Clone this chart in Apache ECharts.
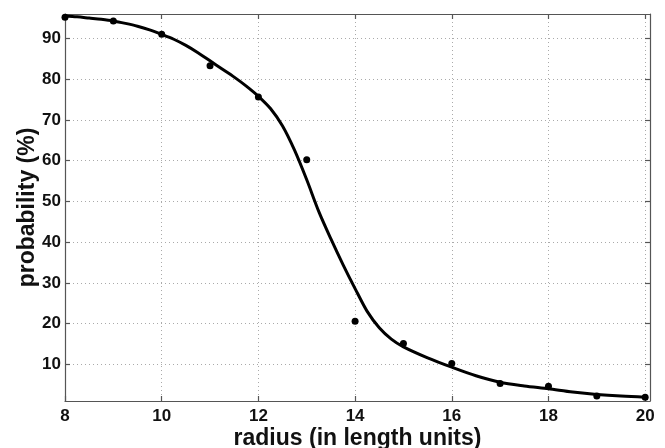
<!DOCTYPE html>
<html>
<head>
<meta charset="utf-8">
<script src="https://cdn.jsdelivr.net/npm/echarts@6/dist/echarts.min.js"></script>
<style>
  html, body { margin: 0; padding: 0; background: #fff; }
  #main { width: 665px; height: 448px; }
</style>
</head>
<body>
<div id="main"></div>
<script>
// measured points
const radius = [8, 9, 10, 11, 12, 13, 14, 15, 16, 17, 18, 19, 20];
const probability = [95.2, 94.3, 91.0, 83.3, 75.6, 60.2, 20.6, 15.1, 10.2, 5.3, 4.6, 2.2, 1.95];

// fitted curve
const fitX = [8, 8.25, 8.5, 8.75, 9, 9.25, 9.5, 9.75, 10, 10.25, 10.5, 10.75, 11, 11.25, 11.5, 11.75,
  12, 12.25, 12.5, 12.75, 13, 13.25, 13.5, 13.75, 14, 14.25, 14.5, 14.75, 15, 15.5, 16, 16.5,
  17, 17.5, 18, 18.5, 19, 19.5, 20];
const fitY = [95.5, 95.3, 95.0, 94.7, 94.3, 93.7, 93.0, 92.1, 91.0, 89.8, 88.3, 86.5, 84.5, 82.5, 80.5, 78.3,
  75.8, 72.8, 68.5, 62.5, 55.3, 47.5, 40.8, 34.5, 28.6, 23.0, 19.0, 16.2, 14.3, 11.6, 9.3, 7.2,
  5.6, 4.7, 4.0, 3.2, 2.6, 2.2, 1.95];

const xTicks = [8, 10, 12, 14, 16, 18, 20];
const yTicks = [10, 20, 30, 40, 50, 60, 70, 80, 90];

const chart = echarts.init(document.getElementById('main'));

const labelFont = {
  fontFamily: 'Liberation Sans, Arial, sans-serif',
  fontWeight: 'bold',
  fontSize: 17,
  color: '#111'
};
const titleFont = {
  fontFamily: 'Liberation Sans, Arial, sans-serif',
  fontWeight: 'bold',
  fontSize: 23,
  color: '#111'
};
const frameLine = { show: true, onZero: false, lineStyle: { color: '#555', width: 1.2 } };
const innerTick = { show: true, inside: true, length: 5, lineStyle: { color: '#555', width: 1.2 } };
const gridDots = { show: true, lineStyle: { color: '#aaa', type: [1, 3], width: 1 } };

chart.setOption({
  animation: false,
  grid: { left: 65, right: 15, top: 14, bottom: 47, outerBoundsMode: 'none' },
  xAxis: [{
    type: 'value',
    min: 8,
    max: 20.1,
    position: 'bottom',
    name: 'radius (in length units)',
    nameLocation: 'middle',
    nameGap: 26,
    nameMoveOverlap: false,
    nameTextStyle: titleFont,
    axisLine: frameLine,
    axisTick: Object.assign({ customValues: xTicks }, innerTick),
    axisLabel: Object.assign({ customValues: xTicks, margin: 7 }, labelFont),
    splitLine: gridDots
  }, {
    type: 'value',
    min: 8,
    max: 20.1,
    position: 'top',
    axisLine: frameLine,
    axisTick: Object.assign({ customValues: xTicks }, innerTick),
    axisLabel: { show: false },
    splitLine: { show: false }
  }],
  yAxis: [{
    type: 'value',
    min: 1,
    max: 96,
    position: 'left',
    name: 'probability (%)',
    nameLocation: 'middle',
    nameGap: 26,
    nameMoveOverlap: false,
    nameTextStyle: titleFont,
    axisLine: frameLine,
    axisTick: Object.assign({ customValues: yTicks }, innerTick),
    axisLabel: Object.assign({ customValues: yTicks, margin: 4 }, labelFont),
    splitLine: gridDots
  }, {
    type: 'value',
    min: 1,
    max: 96,
    position: 'right',
    axisLine: frameLine,
    axisTick: Object.assign({ customValues: yTicks }, innerTick),
    axisLabel: { show: false },
    splitLine: { show: false }
  }],
  series: [{
    type: 'line',
    data: fitX.map((x, i) => [x, fitY[i]]),
    smooth: 0.3,
    showSymbol: false,
    lineStyle: { color: '#000', width: 3 },
    z: 3
  }, {
    type: 'scatter',
    data: radius.map((x, i) => [x, probability[i]]),
    symbolSize: 7,
    itemStyle: { color: '#000', opacity: 1 },
    z: 4
  }]
});
</script>
</body>
</html>
